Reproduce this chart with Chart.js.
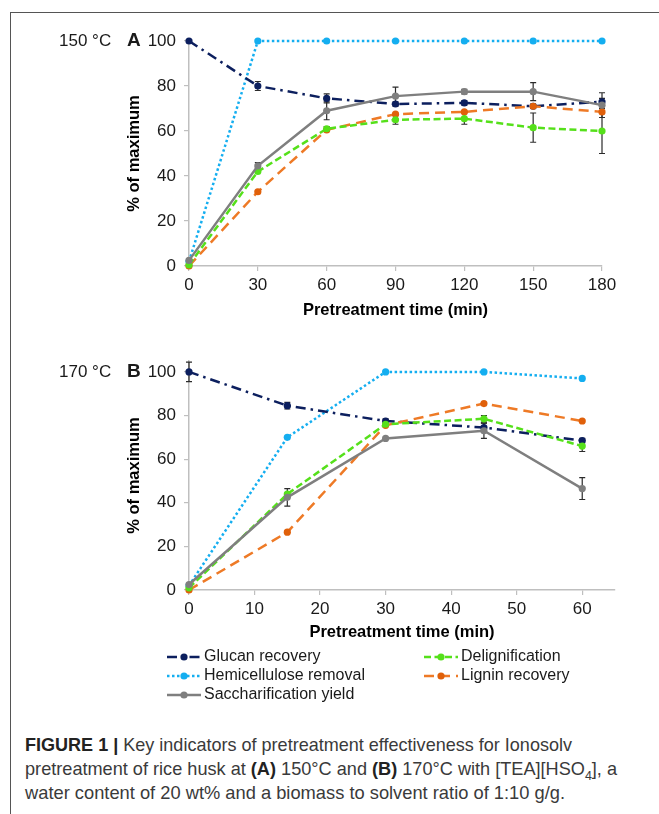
<!DOCTYPE html>
<html><head><meta charset="utf-8">
<script src="https://cdn.jsdelivr.net/npm/chart.js@4/dist/chart.umd.min.js"></script>
<style>
html,body{margin:0;padding:0;background:#fff;width:659px;height:814px;overflow:hidden;position:relative;font-family:"Liberation Sans",Arial,sans-serif}
#frameTop{position:absolute;left:10px;top:12px;width:649px;height:0;border-top:1.5px solid #555}
#frameLeft{position:absolute;left:10px;top:12px;width:0;height:802px;border-left:1.5px solid #555}
#cA{position:absolute;left:0;top:0}
#cB{position:absolute;left:0;top:330px}
.cap{position:absolute;left:25px;white-space:nowrap;font-size:19px;line-height:24px;color:#3a3a3a;transform-origin:0 0}
.cap b{color:#222}
</style></head>
<body>
<div id="frameTop"></div><div id="frameLeft"></div>
<canvas id="cA" width="659" height="330"></canvas>
<canvas id="cB" width="659" height="380"></canvas>
<div class="cap" id="l1" style="top:733px"><b>FIGURE 1 |</b> Key indicators of pretreatment effectiveness for Ionosolv</div>
<div class="cap" id="l2" style="top:757px">pretreatment of rice husk at <b>(A)</b> 150°C and <b>(B)</b> 170°C with [TEA][HSO<sub style="font-size:13px;line-height:0">4</sub>], a</div>
<div class="cap" id="l3" style="top:781px">water content of 20 wt% and a biomass to solvent ratio of 1:10 g/g.</div>
<script>
// ---------- data ----------
const seriesNames = ['Glucan recovery','Hemicellulose removal','Saccharification yield','Delignification','Lignin recovery'];

const timesA = [0,30,60,90,120,150,180];
const glucanA = [100,80,74.5,72,72.5,71,73];
const glucanErrA = [0,2,2,1,1,1,1.5];
const hemiA = [2,100,100,100,100,100,100];
const saccA = [2.5,44.5,69,75.5,77.5,77.5,71.5];
const saccErrA = [0,1.5,4,4,1,4,5.5];
const delignA = [0.5,42,61,65,65.5,61.5,60];
const delignErrA = [0,0,1,2,2.5,6.5,10];
const ligninA = [0,33,60.5,67.5,68.5,71,68.5];

const timesB = [0,15,30,45,60];
const glucanB = [100,84.5,77.5,74.5,68.5];
const glucanErrB = [4.5,1.5,1,2,1];
const hemiB = [2,70,100,100,97];
const saccB = [2.5,42.5,69.5,73,46.5];
const saccErrB = [0,4,0,3.5,5];
const delignB = [1,44,76,78.5,66];
const delignErrB = [0,0,0,1.5,2.5];
const ligninB = [0,26.5,75.5,85.5,77.5];

const yTicks = [0,20,40,60,80,100];
const xTicksA = [0,30,60,90,120,150,180];
const xTicksB = [0,10,20,30,40,50,60];

// ---------- styles ----------
const styles = {
  'Glucan recovery':      {color:'#0c1f5e', dash:[10,5,2.5,5]},
  'Hemicellulose removal':{color:'#14aef0', dash:[2.5,2.5]},
  'Saccharification yield':{color:'#7f7f7f', dash:[]},
  'Delignification':      {color:'#55e01a', dash:[7,3.5]},
  'Lignin recovery':      {color:'#ee7a26', point:'#e0600a', dash:[10,6]}
};
const FONT = '"Liberation Sans", Arial, sans-serif';

function ds(label, times, vals, errs){
  const s = styles[label];
  return {label, data: times.map((t,i)=>({x:t,y:vals[i]})), errors: errs||null,
    borderColor:s.color, backgroundColor:s.point||s.color, pointBackgroundColor:s.point||s.color,
    pointBorderWidth:0, pointRadius:3.6, borderWidth:2.5, borderDash:s.dash, tension:0, clip:false};
}

const errorBars = {
  id:'errorBars',
  beforeDatasetsDraw(chart){
    const {ctx, scales:{x,y}} = chart;
    ctx.save(); ctx.strokeStyle='#2b2b2b'; ctx.lineWidth=1.2;
    chart.data.datasets.forEach(d=>{
      if(!d.errors) return;
      d.data.forEach((p,i)=>{
        const e=d.errors[i]; if(!e) return;
        const px=x.getPixelForValue(p.x), y1=y.getPixelForValue(p.y+e), y2=y.getPixelForValue(p.y-e);
        ctx.beginPath();
        ctx.moveTo(px,y1);ctx.lineTo(px,y2);
        ctx.moveTo(px-3,y1);ctx.lineTo(px+3,y1);
        ctx.moveTo(px-3,y2);ctx.lineTo(px+3,y2);
        ctx.stroke();
      });
    });
    ctx.restore();
  }
};

const panelLabel = {
  id:'panelLabel',
  afterDraw(chart,args,o){
    const {ctx, scales:{y}} = chart;
    const py = y.getPixelForValue(100);
    ctx.save(); ctx.fillStyle='#1a1a1a'; ctx.textBaseline='middle'; ctx.textAlign='left';
    ctx.font='17px '+FONT; ctx.fillText(o.temp, 59, py);
    ctx.font='bold 19px '+FONT; ctx.fillText(o.letter, 127, py);
    ctx.restore();
  }
};

const customLegend = {
  id:'customLegend',
  afterDraw(chart,args,o){
    if(!o.show) return;
    const {ctx} = chart;
    const items = [
      {label:'Glucan recovery', x0:167, row:0},
      {label:'Delignification', x0:424, row:0},
      {label:'Hemicellulose removal', x0:167, row:1},
      {label:'Lignin recovery', x0:424, row:1},
      {label:'Saccharification yield', x0:167, row:2}];
    const rows=[327,346,365];
    ctx.save();
    items.forEach(it=>{
      const d = chart.data.datasets.find(s=>s.label===it.label);
      const yy = rows[it.row];
      ctx.strokeStyle=d.borderColor; ctx.lineWidth=2.5; ctx.setLineDash(d.borderDash||[]);
      ctx.beginPath(); ctx.moveTo(it.x0,yy); ctx.lineTo(it.x0+34,yy); ctx.stroke();
      ctx.setLineDash([]);
      ctx.fillStyle=d.pointBackgroundColor; ctx.beginPath(); ctx.arc(it.x0+17,yy,3.6,0,Math.PI*2); ctx.fill();
      ctx.fillStyle='#1a1a1a'; ctx.font='16px '+FONT; ctx.textBaseline='middle'; ctx.textAlign='left';
      ctx.fillText(it.label, it.x0+37, yy);
    });
    ctx.restore();
  }
};

function scaleOpts(cfg){
  return {
    x:{type:'linear', min:0, max:cfg.xmax,
      afterBuildTicks(s){ s.ticks = cfg.xticks.map(v=>({value:v})); },
      ticks:{font:{size:17,family:FONT}, color:'#1a1a1a', padding:4, maxRotation:0, autoSkip:false},
      grid:{drawOnChartArea:false, drawTicks:true, tickLength:5, color:'#bfbfbf', lineWidth:1.2},
      border:{color:'#bfbfbf', width:1.5},
      title:{display:true, text:'Pretreatment time (min)', font:{size:16.5,weight:'bold',family:FONT}, color:'#000', padding:{top:0,bottom:cfg.xtitlePad}},
      afterFit(s){ s.height = cfg.xh; }
    },
    y:{type:'linear', min:0, max:cfg.ymax,
      afterBuildTicks(s){ s.ticks = yTicks.map(v=>({value:v})); },
      ticks:{font:{size:17,family:FONT}, color:'#1a1a1a', padding:8},
      grid:{drawOnChartArea:false, drawTicks:true, tickLength:5, color:'#bfbfbf', lineWidth:1.2},
      border:{color:'#bfbfbf', width:1.5},
      title:{display:true, text:'% of maximum', font:{size:16.5,weight:'bold',family:FONT}, color:'#000', padding:{top:125,bottom:0}},
      afterFit(s){ s.width = 189; }
    }
  };
}

function makeChart(id, times, g, ge, h, sa, sae, de, dee, li, cfg){
  return new Chart(document.getElementById(id), {
    type:'line',
    data:{datasets:[
      ds('Saccharification yield', times, sa, sae),
      ds('Delignification', times, de, dee),
      ds('Lignin recovery', times, li, null),
      ds('Glucan recovery', times, g, ge),
      ds('Hemicellulose removal', times, h, null)
    ]},
    options:{responsive:false, animation:false, devicePixelRatio:1,
      layout:{padding:{top:cfg.pt, right:cfg.pr, left:0, bottom:cfg.pb}},
      scales:scaleOpts(cfg),
      plugins:{legend:{display:false}, tooltip:{enabled:false},
        panelLabel:{temp:cfg.temp, letter:cfg.letter},
        customLegend:{show:cfg.legend}}
    },
    plugins:[errorBars, panelLabel, customLegend]
  });
}

makeChart('cA', timesA, glucanA, glucanErrA, hemiA, saccA, saccErrA, delignA, delignErrA, ligninA,
  {xmax:180, xticks:xTicksA, ymax:100, pt:41, pr:57, pb:0, xh:64, xtitlePad:10, temp:'150 °C', letter:'A', legend:false});
makeChart('cB', timesB, glucanB, glucanErrB, hemiB, saccB, saccErrB, delignB, delignErrB, ligninB,
  {xmax:65, xticks:xTicksB, ymax:105, pt:31, pr:44, pb:60, xh:60, xtitlePad:8, temp:'170 °C', letter:'B', legend:true});

// caption fitting
[['l1',547],['l2',592],['l3',540]].forEach(([id,w])=>{
  const el=document.getElementById(id);
  const nat=el.getBoundingClientRect().width;
  el.style.transform='scaleX('+(w/nat)+')';
});
</script>
</body></html>
